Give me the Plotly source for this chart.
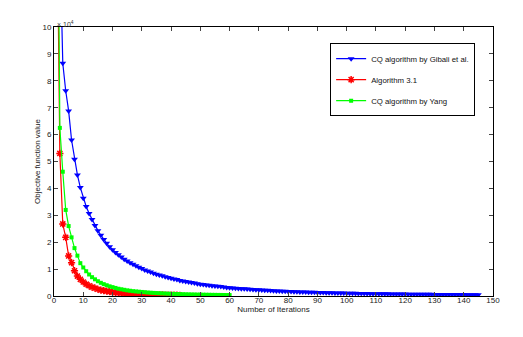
import plotly.graph_objects as go

# objective function values, in units of 1e4 (axis shows "x 10^4")
gibali = [18, 13, 8.65, 7.63, 6.88, 5.8, 5.08, 4.5, 4.03, 3.63,
          3.33, 3.07, 2.84, 2.62, 2.43, 2.26, 2.1, 1.96, 1.83, 1.72,
          1.62, 1.53, 1.45, 1.37, 1.3, 1.24, 1.18, 1.12, 1.07, 1.02,
          0.97, 0.93, 0.89, 0.85, 0.81, 0.78, 0.75, 0.72, 0.69, 0.66,
          0.63, 0.61, 0.58, 0.56, 0.54, 0.52, 0.5, 0.48, 0.46, 0.44,
          0.43, 0.41, 0.40, 0.38, 0.37, 0.36, 0.35, 0.33, 0.32, 0.31,
          0.30, 0.29, 0.28, 0.27, 0.265, 0.26, 0.25, 0.24, 0.235, 0.23,
          0.22, 0.215, 0.21, 0.2, 0.195, 0.19, 0.185, 0.18, 0.175, 0.17,
          0.165, 0.16, 0.157, 0.153, 0.15, 0.146, 0.142, 0.139, 0.135, 0.132,
          0.129, 0.126, 0.123, 0.12, 0.117, 0.114, 0.112, 0.109, 0.107, 0.104,
          0.102, 0.1, 0.098, 0.096, 0.094, 0.092, 0.09, 0.088, 0.086, 0.085,
          0.083, 0.082, 0.08, 0.079, 0.077, 0.076, 0.074, 0.073, 0.072, 0.07,
          0.069, 0.068, 0.067, 0.066, 0.065, 0.064, 0.063, 0.062, 0.061, 0.06,
          0.059, 0.058, 0.057, 0.056, 0.055, 0.055, 0.054, 0.053, 0.052, 0.052,
          0.051, 0.05, 0.05, 0.049, 0.048]

alg31 = [15, 5.3, 2.68, 2.18, 1.49, 1.24, 0.94, 0.74, 0.62, 0.52,
         0.44, 0.38, 0.33, 0.29, 0.25, 0.22, 0.2, 0.18, 0.16, 0.145,
         0.13, 0.12, 0.11, 0.1, 0.092, 0.085, 0.078, 0.072, 0.067, 0.062,
         0.058, 0.054, 0.05, 0.047, 0.044, 0.041, 0.039, 0.037, 0.035, 0.033,
         0.031, 0.03, 0.028]

yang = [20, 6.25, 4.62, 3.2, 2.6, 2.18, 1.78, 1.5, 1.22, 1.06,
        0.92, 0.8, 0.7, 0.62, 0.55, 0.49, 0.44, 0.4, 0.36, 0.33,
        0.3, 0.27, 0.25, 0.23, 0.21, 0.195, 0.18, 0.17, 0.16, 0.15,
        0.14, 0.13, 0.122, 0.115, 0.108, 0.102, 0.096, 0.091, 0.086, 0.082,
        0.078, 0.074, 0.07, 0.067, 0.064, 0.061, 0.058, 0.056, 0.053, 0.051,
        0.049, 0.047, 0.045, 0.043, 0.042, 0.04, 0.039, 0.037, 0.036, 0.035]

names = ["CQ algorithm by Gibali et al.", "Algorithm 3.1", "CQ algorithm by Yang"]

fig = go.Figure()

fig.add_trace(go.Scatter(x=list(range(1, len(gibali) + 1)), y=gibali, name=names[0],
                         mode="lines+markers", legendgroup="a",
                         line=dict(color="#0000ff", width=1.2),
                         marker=dict(symbol="triangle-down", size=6, color="#0000ff")))
fig.add_trace(go.Scatter(x=list(range(1, len(alg31) + 1)), y=alg31, name=names[1],
                         mode="lines+markers", legendgroup="b",
                         line=dict(color="#ff0000", width=1.2),
                         marker=dict(symbol="asterisk-open", size=6, color="#ff0000",
                                     line=dict(color="#ff0000", width=1.5))))
fig.add_trace(go.Scatter(x=list(range(1, len(yang) + 1)), y=yang, name=names[2],
                         mode="lines+markers", legendgroup="c",
                         line=dict(color="#00ff00", width=1.2),
                         marker=dict(symbol="square", size=4, color="#00ff00")))

axis_font = dict(family="Liberation Sans, Arial, sans-serif", size=8, color="#222")

fig.update_xaxes(range=[0, 150], dtick=10, tick0=0, ticks="inside", ticklen=4,
                 showline=True, linecolor="black", linewidth=1, mirror="ticks",
                 showgrid=False, zeroline=False, tickfont=axis_font, automargin=False,
                 ticklabelstandoff=-4,
                 title=dict(text="Number of Iterations", font=axis_font, standoff=0))
fig.update_yaxes(range=[0, 10], dtick=1, tick0=0, ticks="inside", ticklen=4,
                 showline=True, linecolor="black", linewidth=1, mirror="ticks",
                 showgrid=False, zeroline=False, tickfont=axis_font, automargin=False,
                 title=dict(text="Objective function value", font=axis_font, standoff=0))

fig.add_annotation(x=0, y=1, xref="paper", yref="paper", xanchor="left", yanchor="bottom",
                   text="\u00d7 10<sup>4</sup>", showarrow=False, xshift=1, yshift=-3,
                   font=dict(family="Liberation Sans, Arial, sans-serif", size=7, color="#333"))

fig.update_layout(
    width=515, height=329,
    margin=dict(l=46, r=30, t=19, b=41),
    paper_bgcolor="white", plot_bgcolor="white",
    showlegend=True,
    legend=dict(x=0.629, y=0.94, xanchor="left", yanchor="top",
                bordercolor="black", borderwidth=1, bgcolor="white",
                tracegroupgap=2, itemwidth=30,
                font=dict(family="Liberation Sans, Arial, sans-serif", size=7.8, color="#111")),
)

fig.write_html("out.html")
